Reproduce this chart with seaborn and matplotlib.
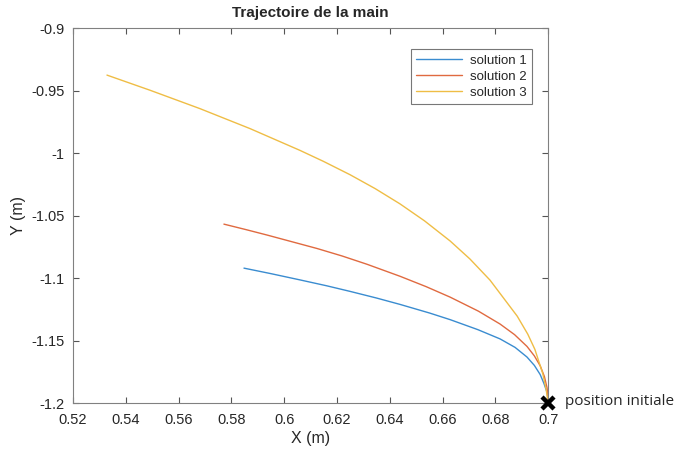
import pandas as pd
import seaborn as sns
import matplotlib.pyplot as plt

# Points
x1 = [0.5848, 0.5950, 0.6060, 0.6161, 0.6250, 0.6350, 0.6439, 0.6551, 0.6629, 0.6734,
      0.6818, 0.6875, 0.6920, 0.6948, 0.6970, 0.6984, 0.6996, 0.6999, 0.7000]
y1 = [-1.0920, -1.0964, -1.1014, -1.1061, -1.1106, -1.1159, -1.1210, -1.1279, -1.1332, -1.1412,
      -1.1486, -1.1554, -1.1631, -1.1698, -1.1771, -1.1841, -1.1913, -1.1955, -1.2000]

x2 = [0.5772, 0.5854, 0.5935, 0.6125, 0.6220, 0.6314, 0.6439, 0.6538, 0.6629, 0.6736,
      0.6818, 0.6873, 0.6920, 0.6948, 0.6970, 0.6986, 0.6996, 0.6999, 0.7000]
y2 = [-1.0568, -1.0611, -1.0655, -1.0763, -1.0823, -1.0889, -1.0985, -1.1068, -1.1152, -1.1264,
      -1.1367, -1.1452, -1.1546, -1.1622, -1.1701, -1.1787, -1.1877, -1.1940, -1.2000]

x3 = [0.5329, 0.5492, 0.5681, 0.5871, 0.6060, 0.6149, 0.6250, 0.6345, 0.6439, 0.6532, 0.6629,
      0.6704, 0.6780, 0.6883, 0.6923, 0.6950, 0.6980, 0.6993, 0.7000]
y3 = [-0.9376, -0.9497, -0.9644, -0.9804, -0.9978, -1.0066, -1.0173, -1.0284, -1.0406, -1.0542, -1.0703,
      -1.0847, -1.1016, -1.1304, -1.1448, -1.1570, -1.1765, -1.1895, -1.2000]

labels = ['solution 1', 'solution 2', 'solution 3']
colors = ['#3a8cd0', '#e06a40', '#efbd45']

start = (0.7, -1.2)

xticks = [0.52, 0.54, 0.56, 0.58, 0.6, 0.62, 0.64, 0.66, 0.68, 0.7]
yticks = [-1.2, -1.15, -1.1, -1.05, -1, -0.95, -0.9]

df = pd.concat([
    pd.DataFrame({'x': xs, 'y': ys, 'sol': lab})
    for xs, ys, lab in zip([x1, x2, x3], [y1, y2, y3], labels)
], ignore_index=True)

sns.set_style('white')
plt.rcParams['font.family'] = ['Liberation Sans', 'DejaVu Sans']

fig = plt.figure(figsize=(6.75, 4.53), dpi=100)
ax = fig.add_axes([0.108, 0.110, 0.704, 0.828])

sns.lineplot(data=df, x='x', y='y', hue='sol', palette=colors, sort=False,
             estimator=None, linewidth=1.0, ax=ax)

# start marker
ax.plot(*start, marker='x', color='black', markersize=9, markeredgewidth=3.2,
        clip_on=False, zorder=5)
ax.annotate('position initiale', xy=start, xytext=(12, 1), textcoords='offset points',
            va='center', ha='left', fontsize=11, family=['Open Sans', 'DejaVu Sans'],
            annotation_clip=False)

ax.set_xlim(0.52, 0.7)
ax.set_ylim(-1.2, -0.9)
ax.set_xticks(xticks)
ax.set_xticklabels([f'{t:g}' for t in xticks])
ax.set_yticks(yticks)
ax.set_yticklabels([f'{t:g}' for t in yticks])
ax.tick_params(direction='in', length=4, width=0.8, color='#555555',
               labelsize=10.5, labelcolor='#262626', top=True, right=True,
               bottom=True, left=True)
ax.tick_params(axis='x', pad=7)
ax.tick_params(axis='y', pad=6)
for sp in ax.spines.values():
    sp.set_color('#808080')
    sp.set_linewidth(0.8)

ax.set_title('Trajectoire de la main', fontsize=11, fontweight='bold', pad=8)
ax.set_xlabel('X (m)', fontsize=11.5, color='#262626', labelpad=3)
ax.set_ylabel('Y (m)', fontsize=11.5, color='#262626')

leg = ax.legend(loc='upper right', bbox_to_anchor=(0.966, 0.944), borderaxespad=0,
                fontsize=9.5, frameon=True, fancybox=False, edgecolor='#555555',
                handlelength=3.5, borderpad=0.4, labelspacing=0.3, handletextpad=0.6)
leg.get_frame().set_linewidth(0.8)

plt.savefig('out.png', dpi=100)
